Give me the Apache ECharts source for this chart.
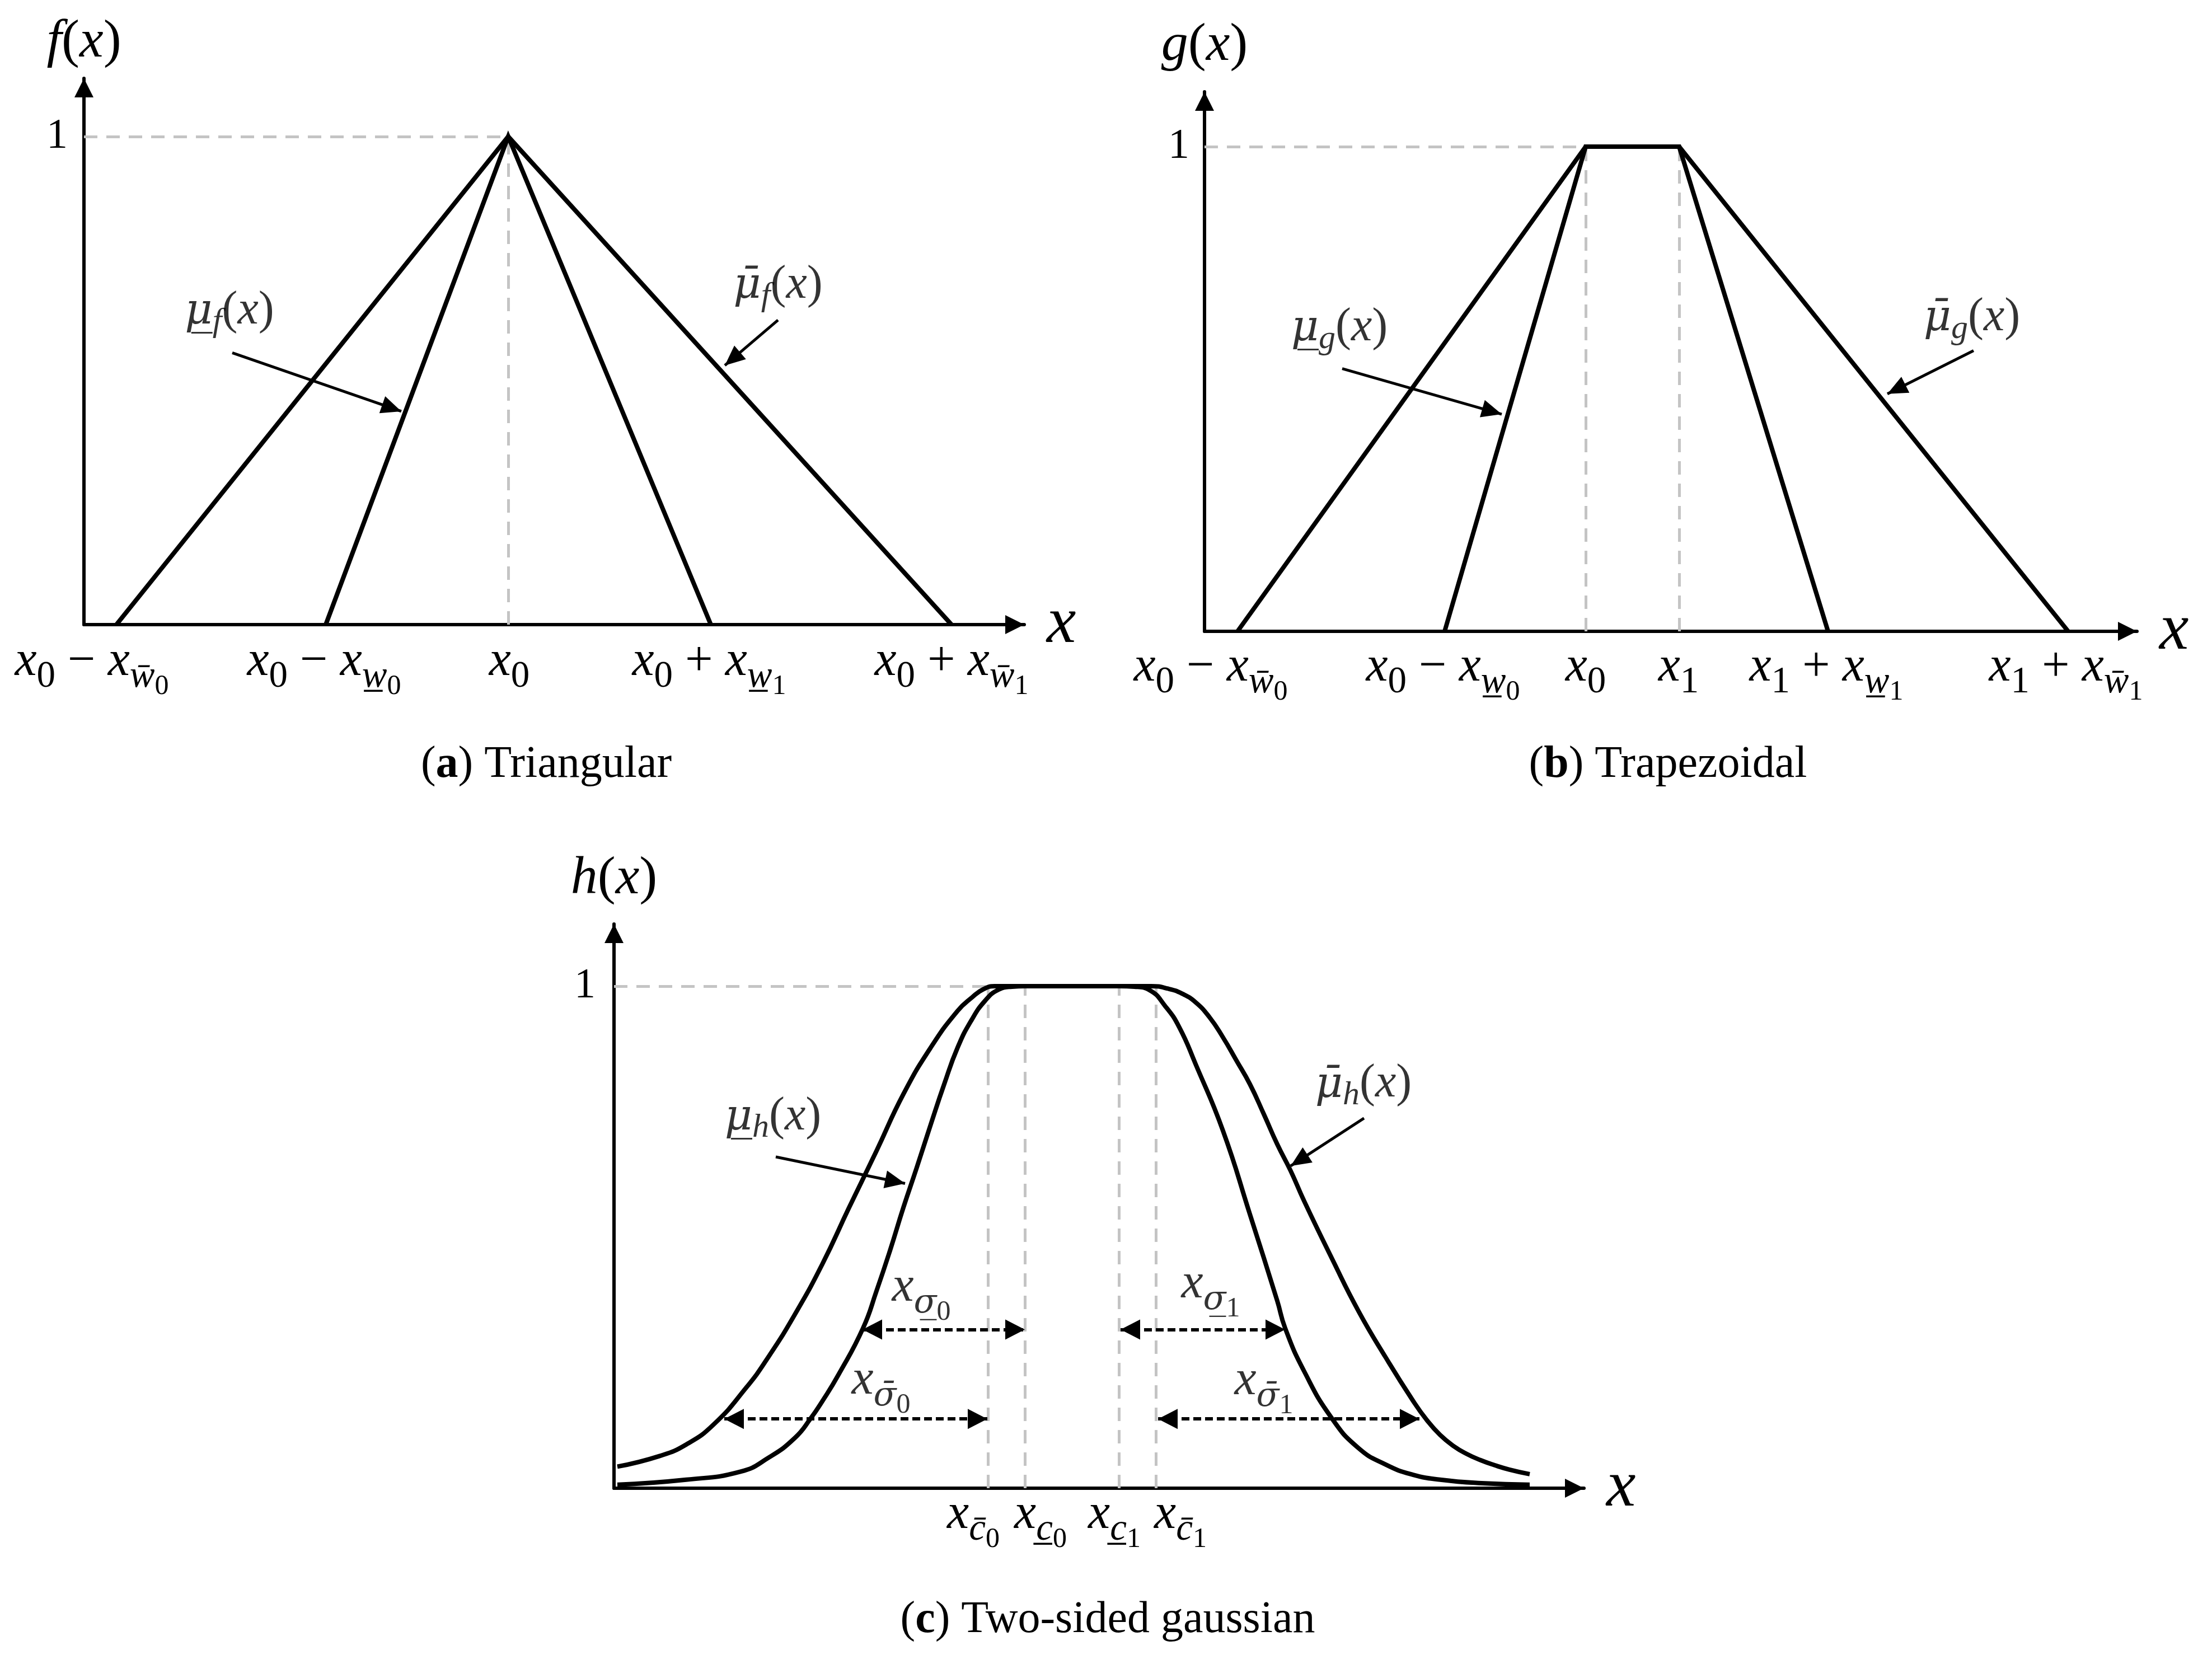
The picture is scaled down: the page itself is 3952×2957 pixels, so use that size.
<!DOCTYPE html>
<html>
<head>
<meta charset="utf-8">
<script src="https://cdn.jsdelivr.net/npm/echarts@6/dist/echarts.min.js"></script>
<style>html,body{margin:0;padding:0;background:#fff}#c{width:3952px;height:2957px}</style>
</head>
<body>
<div id="c"></div>
<script>
// ---------------- DATA (x = horizontal position along each x axis, y = membership degree) ----------------
const BAR = '\u0304', UND = '\u0332';
// (a) Triangular
const triOuter = [[58, 0], [758, 1], [1550, 0]];
const triInner = [[432, 0], [758, 1], [1120, 0]];
const triGuides = [[[0, 1], [758, 1]], [[758, 0], [758, 1]]];
const triTickPos = [14, 429, 760, 1117, 1550];
const triTickLabels = ['x|_0| − |x|_w' + BAR + '|__0', 'x|_0| − |x|_w' + UND + '|__0', 'x|_0', 'x|_0| + |x|_w' + UND + '|__1', 'x|_0| + |x|_w' + BAR + '|__1'];
const triAnnotArrows = [[[265, 0.557], [567, 0.437]], [[1240, 0.624], [1145, 0.531]]];
const triAnnotPos = [[260, 0.638], [1240, 0.691]];
const triAnnotText = ['μ' + UND + '|_f|(|x|)', 'μ' + BAR + '|_f|(|x|)'];

// (b) Trapezoidal
const trapOuter = [[59, 0], [681, 1], [848, 1], [1543, 0]];
const trapInner = [[429, 0], [681, 1], [848, 1], [1114, 0]];
const trapGuides = [[[0, 1], [681, 1]], [[681, 0], [681, 1]], [[848, 0], [848, 1]]];
const trapTickPos = [11, 426, 681, 847, 1111, 1539];
const trapTickLabels = ['x|_0| − |x|_w' + BAR + '|__0', 'x|_0| − |x|_w' + UND + '|__0', 'x|_0', 'x|_1', 'x|_1| + |x|_w' + UND + '|__1', 'x|_1| + |x|_w' + BAR + '|__1'];
const trapAnnotArrows = [[[246, 0.542], [531, 0.448]], [[1374, 0.579], [1220, 0.490]]];
const trapAnnotPos = [[241, 0.621], [1371, 0.642]];
const trapAnnotText = ['μ' + UND + '|_g|(|x|)', 'μ' + BAR + '|_g|(|x|)'];

// (c) Two-sided gaussian
const gaussOuter = [[6, 0.043], [81, 0.064], [129, 0.087], [178, 0.127], [236, 0.200], [275, 0.260], [323, 0.346], [372, 0.446], [420, 0.559], [469, 0.672], [517, 0.785], [566, 0.878], [614, 0.951], [640, 0.978], [660, 0.994], [680, 1],
  [960, 1], [990, 0.995], [1015, 0.985], [1039, 0.968], [1064, 0.938], [1088, 0.898], [1112, 0.852], [1136, 0.805], [1161, 0.745], [1185, 0.685], [1209, 0.632], [1233, 0.572], [1282, 0.459], [1330, 0.353], [1379, 0.260], [1427, 0.175], [1452, 0.136], [1476, 0.106], [1500, 0.084], [1524, 0.068], [1548, 0.056], [1573, 0.046], [1600, 0.037], [1636, 0.028]];
const gaussInner = [[6, 0.007], [129, 0.017], [226, 0.033], [275, 0.060], [323, 0.100], [352, 0.140], [372, 0.173], [401, 0.226], [445, 0.319], [469, 0.393], [493, 0.473], [517, 0.559], [541, 0.639], [566, 0.725], [590, 0.805], [614, 0.878], [638, 0.931], [663, 0.971], [687, 0.993], [711, 0.999], [735, 1],
  [903, 1], [930, 0.999], [957, 0.992], [985, 0.960], [1010, 0.918], [1039, 0.845], [1088, 0.712], [1136, 0.546], [1185, 0.373], [1199, 0.319], [1233, 0.233], [1282, 0.140], [1330, 0.080], [1379, 0.047], [1427, 0.027], [1476, 0.017], [1550, 0.010], [1636, 0.007]];
const gaussGuides = [[[0, 1], [668, 1]], [[668, 0], [668, 1]], [[734, 0], [734, 1]], [[902, 0], [902, 1]], [[968, 0], [968, 1]]];
const gaussTickPos = [642, 762, 894, 1012];
const gaussTickLabels = ['x|_c' + BAR + '|__0', 'x|_c' + UND + '|__0', 'x|_c' + UND + '|__1', 'x|_c' + BAR + '|__1'];
const gaussAnnotArrows = [[[289, 0.66], [520, 0.607]], [[1340, 0.737], [1209, 0.642]]];
const gaussAnnotPos = [[284, 0.735], [1339, 0.80]];
const gaussAnnotText = ['μ' + UND + '|_h|(|x|)', 'μ' + BAR + '|_h|(|x|)'];
const sigmaArrows = [[[444, 0.316], [734, 0.316]], [[197, 0.138], [667, 0.138]], [[905, 0.316], [1199, 0.316]], [[972, 0.138], [1439, 0.138]]];
const sigmaPos = [[549, 0.385], [477, 0.20], [1066, 0.392], [1161, 0.199]];
const sigmaText = ['x|_σ' + UND + '|__0', 'x|_σ' + BAR + '|__0', 'x|_σ' + UND + '|__1', 'x|_σ' + BAR + '|__1'];

const yNames = ['f|(|x|)', 'g|(|x|)', 'h|(|x|)'];
const captions = ['({b|a}) Triangular', '({b|b}) Trapezoidal', '({b|c}) Two-sided gaussian'];

// ---------------- STYLE / LAYOUT ----------------
const FONT = "'Liberation Serif', 'DejaVu Serif', serif";
const GFONT = "'DejaVu Serif', 'Liberation Serif', serif";
function richSet(prefix, sizes, pads) {
  const r = {};
  sizes.forEach((s, l) => {
    r[prefix + l + 'i'] = { fontFamily: FONT, fontSize: s, fontStyle: 'italic', color: '#000', verticalAlign: 'top', padding: [pads[l], 0, 0, 0] };
    r[prefix + l + 'n'] = { fontFamily: FONT, fontSize: s, fontStyle: 'normal', color: '#000', verticalAlign: 'top', padding: [pads[l], 0, 0, 0] };
    const gs = Math.round(s * 0.9);
    r[prefix + l + 'g'] = { fontFamily: GFONT, fontSize: gs, fontStyle: 'italic', color: '#000', verticalAlign: 'top', padding: [pads[l] + (s - gs) * 0.8, 0, 0, 0] };
  });
  return r;
}
const RICH_T = richSet('t', [88, 67, 50], [0, 37, 63]);
const RICH_A = richSet('a', [84, 60], [0, 32]);
const RICH_N = richSet('n', [96], [0]);
function toRich(spec, prefix) {
  return spec.split('|').map(piece => {
    let lvl = 0; while (piece[lvl] === '_') lvl++;
    const t = piece.slice(lvl);
    let k = /[A-Za-zμσ]/.test(t) ? 'i' : 'n';
    if (/[μσ][\u0304\u0332]/.test(t)) k = 'g';
    return '{' + prefix + lvl + k + '|' + t + '}';
  }).join('');
}
const AXIS_ARROW = 'path://M-34,-34 M34,34 M0,0 L17,34 L-17,34 Z';
const ANNOT_ARROW = 'path://M-36,-36 M36,36 M0,0 L16,36 L-16,36 Z';
const DBL_ARROW = 'path://M-35,-35 M35,35 M0,0 L18,35 L-18,35 Z';

const panels = [
  { grid: { left: 150, top: 140, width: 1680, height: 976 }, ymax: 976 / 872, tickPos: triTickPos, tickLabels: triTickLabels, labelMargin: 23, nameGap: 16, oneMargin: 29 },
  { grid: { left: 2152, top: 164, width: 1666, height: 964 }, ymax: 964 / 866, tickPos: trapTickPos, tickLabels: trapTickLabels, labelMargin: 21, nameGap: 34, oneMargin: 27 },
  { grid: { left: 1097, top: 1651, width: 1733, height: 1008 }, ymax: 1008 / 897, tickPos: gaussTickPos, tickLabels: gaussTickLabels, labelMargin: 4, nameGap: 32, oneMargin: 33 }
];

const grid = [], xAxis = [], yAxis = [], series = [];
panels.forEach((p, i) => {
  grid.push(Object.assign({ outerBoundsMode: 'none', containLabel: false }, p.grid));
  xAxis.push({
    type: 'value', gridIndex: i, min: 0, max: p.grid.width,
    axisLine: { show: true, onZero: false, lineStyle: { color: '#000', width: 6 }, symbol: ['none', AXIS_ARROW], symbolSize: [68, 68] },
    axisTick: { show: false }, splitLine: { show: false },
    axisLabel: {
      show: true, margin: p.labelMargin, customValues: p.tickPos, hideOverlap: false,
      fontFamily: FONT, fontSize: 88, color: '#000', rich: RICH_T,
      formatter: (v) => {
        let best = 0;
        p.tickPos.forEach((t, k) => { if (Math.abs(t - v) < Math.abs(p.tickPos[best] - v)) best = k; });
        return toRich(p.tickLabels[best], 't');
      }
    },
    name: 'x', nameLocation: 'end', nameGap: 40,
    nameTextStyle: { fontFamily: FONT, fontSize: 118, fontStyle: 'italic', color: '#000' }
  });
  yAxis.push({
    type: 'value', gridIndex: i, min: 0, max: p.ymax,
    axisLine: { show: true, onZero: false, lineStyle: { color: '#000', width: 6 }, symbol: ['none', AXIS_ARROW], symbolSize: [68, 68] },
    axisTick: { show: false }, splitLine: { show: false },
    axisLabel: { show: true, customValues: [1], formatter: () => '1', margin: p.oneMargin, fontFamily: FONT, fontSize: 76, color: '#000' },
    name: toRich(yNames[i], 'n'), nameLocation: 'end', nameGap: p.nameGap,
    nameTextStyle: { fontFamily: FONT, fontSize: 96, color: '#000', rich: RICH_N }
  });
});

function guideSeries(idx, segs) {
  return { type: 'lines', coordinateSystem: 'cartesian2d', xAxisIndex: idx, yAxisIndex: idx, z: 1, silent: true,
    lineStyle: { color: '#c4c4c4', width: 5, type: [24, 16], opacity: 1 },
    data: segs.map(s => ({ coords: s })) };
}
function curveSeries(idx, data, smooth) {
  return { type: 'line', xAxisIndex: idx, yAxisIndex: idx, data: data, symbol: 'none', z: 3, silent: true,
    smooth: smooth ? 0.5 : false,
    lineStyle: { color: '#000', width: 8, join: smooth ? 'round' : 'miter' } };
}
function arrowSeries(idx, segs) {
  return { type: 'lines', coordinateSystem: 'cartesian2d', xAxisIndex: idx, yAxisIndex: idx, z: 4, silent: true,
    symbol: ['none', ANNOT_ARROW], symbolSize: 72,
    lineStyle: { color: '#000', width: 5, opacity: 1, curveness: 0 },
    data: segs.map(s => ({ coords: s })) };
}
function dblArrowSeries(idx, segs) {
  return { type: 'lines', coordinateSystem: 'cartesian2d', xAxisIndex: idx, yAxisIndex: idx, z: 4, silent: true,
    symbol: [DBL_ARROW, DBL_ARROW], symbolSize: 70,
    lineStyle: { color: '#000', width: 6, opacity: 1, type: [14, 7] },
    data: segs.map(s => ({ coords: s })) };
}
function labelSeries(idx, pos, texts, prefix, rich) {
  return { type: 'scatter', xAxisIndex: idx, yAxisIndex: idx, z: 5, silent: true, symbolSize: 1,
    itemStyle: { color: 'rgba(0,0,0,0)' },
    label: { show: true, position: 'inside', color: '#000', rich: rich,
      formatter: (prm) => toRich(prm.data.t, prefix) },
    data: pos.map((p, k) => ({ value: p, t: texts[k] })) };
}

series.push(guideSeries(0, triGuides), curveSeries(0, triOuter), curveSeries(0, triInner),
  arrowSeries(0, triAnnotArrows), labelSeries(0, triAnnotPos, triAnnotText, 'a', RICH_A));
series.push(guideSeries(1, trapGuides), curveSeries(1, trapOuter), curveSeries(1, trapInner),
  arrowSeries(1, trapAnnotArrows), labelSeries(1, trapAnnotPos, trapAnnotText, 'a', RICH_A));
series.push(guideSeries(2, gaussGuides), curveSeries(2, gaussOuter, true), curveSeries(2, gaussInner, true),
  arrowSeries(2, gaussAnnotArrows), labelSeries(2, gaussAnnotPos, gaussAnnotText, 'a', RICH_A),
  dblArrowSeries(2, sigmaArrows), labelSeries(2, sigmaPos, sigmaText, 't', RICH_T));

const capPos = [[976, 1367], [2980, 1367], [1979, 2895]];
const title = captions.map((c, k) => ({
  text: c, left: capPos[k][0], top: capPos[k][1], textAlign: 'center', textVerticalAlign: 'middle', padding: 0,
  textStyle: { fontFamily: FONT, fontSize: 80, fontWeight: 'normal', color: '#000',
    rich: { b: { fontFamily: FONT, fontSize: 80, fontWeight: 'bold', color: '#000' } } }
}));

const chart = echarts.init(document.getElementById('c'), null, { renderer: 'canvas', width: 3952, height: 2957 });
chart.setOption({ backgroundColor: '#fff', animation: false, title, grid, xAxis, yAxis, series });
</script>
</body>
</html>
